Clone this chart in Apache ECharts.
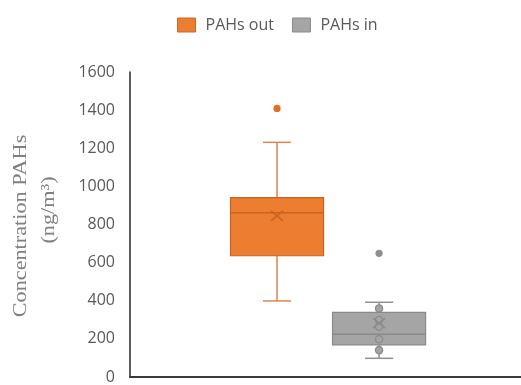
<!DOCTYPE html>
<html>
<head>
<meta charset="utf-8">
<script src="https://cdn.jsdelivr.net/npm/echarts@6/dist/echarts.min.js"></script>
<style>
  html, body { margin: 0; padding: 0; background: #ffffff; }
  #chart { width: 521px; height: 385px; }
</style>
</head>
<body>
<div id="chart"></div>
<script>
// ---- data ----
const categories = [''];
const seriesNames = ['PAHs out', 'PAHs in'];
// [lower whisker, Q1, median, Q3, upper whisker]
const outStats = [399, 636, 862, 941, 1231];
const inStats = [98, 168, 224, 339, 392];
const outMean = 845;
const inMean = 283;
const outOutliers = [1409];
const inOutliers = [649];
const outInnerPoints = [];
const inInnerPoints = [360, 299, 264, 198, 141];
const yTickLabels = ['0', '200', '400', '600', '800', '1000', '1200', '1400', '1600'];

// ---- styling ----
const TEXT = '#595959';
const FONT = '"Open Sans", "Liberation Sans", sans-serif';
const BOX_RATIO = 0.238;     // box width as share of the category band
const CAP_RATIO = 0.072;     // whisker cap width as share of the band

function boxSeries(name, stats, mean, outliers, inner, fill, stroke, dark, dot, shift) {
  return {
    type: 'custom',
    name: name,
    itemStyle: { color: fill, borderColor: stroke },
    data: [[0].concat(stats, [mean])],
    renderItem: function (params, api) {
      const base = api.coord([api.value(0), 0]);
      const band = api.size([1, 0])[0];
      const cx = base[0] + shift * band;
      const y = function (v) { return api.coord([api.value(0), v])[1]; };
      const hb = band * BOX_RATIO / 2;
      const hc = band * CAP_RATIO / 2;
      const lo = y(api.value(1)), q1 = y(api.value(2)), md = y(api.value(3)),
            q3 = y(api.value(4)), hi = y(api.value(5)), mn = y(api.value(6));
      const line = function (x1, y1, x2, y2, color, w) {
        return { type: 'line', shape: { x1: x1, y1: y1, x2: x2, y2: y2 },
                 style: { stroke: color, lineWidth: w || 1.5 } };
      };
      const kids = [
        line(cx, hi, cx, q3, stroke),
        line(cx, q1, cx, lo, stroke),
        line(cx - hc, hi, cx + hc, hi, stroke),
        line(cx - hc, lo, cx + hc, lo, stroke),
        { type: 'rect', shape: { x: cx - hb, y: q3, width: hb * 2, height: q1 - q3 },
          style: { fill: fill, stroke: dark, lineWidth: 1.2 } },
        line(cx - hb, md, cx + hb, md, dark, 1.5)
      ];
      inner.forEach(function (v) {
        kids.push({ type: 'circle', shape: { cx: cx, cy: y(v), r: 3.6 },
                    style: { fill: fill, stroke: dark, lineWidth: 1.3 } });
      });
      // mean marker
      kids.push(line(cx - 6, mn - 5, cx + 6, mn + 5, dark, 1.5));
      kids.push(line(cx - 6, mn + 5, cx + 6, mn - 5, dark, 1.5));
      outliers.forEach(function (v) {
        kids.push({ type: 'circle', shape: { cx: cx, cy: y(v), r: 3.6 },
                    style: { fill: dot } });
      });
      return { type: 'group', children: kids };
    }
  };
}

const chart = echarts.init(document.getElementById('chart'), null, { renderer: 'canvas' });
chart.setOption({
  backgroundColor: '#ffffff',
  animation: false,
  legend: {
    left: 172, top: 12,
    itemWidth: 18, itemHeight: 14, itemGap: 18,
    textStyle: { color: TEXT, fontFamily: FONT, fontSize: 16, padding: [0, 0, 0, 5] },
    data: [
      { name: seriesNames[0], icon: 'rect', itemStyle: { color: '#ED7D31', borderColor: '#C8682A', borderWidth: 1 } },
      { name: seriesNames[1], icon: 'rect', itemStyle: { color: '#A5A5A5', borderColor: '#8A8A8A', borderWidth: 1 } }
    ]
  },
  grid: { left: 130, right: 0, top: 72, bottom: 8 },
  xAxis: {
    type: 'category',
    data: categories,
    axisLine: { lineStyle: { color: '#3a3a3a', width: 2 } },
    axisTick: { show: false },
    axisLabel: { show: false }
  },
  yAxis: {
    type: 'value',
    min: 0, max: 1600, interval: 200,
    axisLine: { show: true, lineStyle: { color: '#262626', width: 1.5 } },
    axisTick: { show: false },
    splitLine: { show: false },
    axisLabel: {
      color: TEXT, fontFamily: FONT, fontSize: 16, margin: 15,
      formatter: function (v) { return yTickLabels[Math.round(v / 200)]; }
    }
  },
  graphic: [
    { type: 'text', x: 21, y: 226, rotation: Math.PI / 2, scaleX: 1.17,
      style: { text: 'Concentration PAHs', font: '19px "Liberation Serif", serif', fill: '#808080',
               align: 'center', verticalAlign: 'middle' } },
    { type: 'text', x: 49, y: 210, rotation: Math.PI / 2, scaleX: 1.17,
      style: { text: '(ng/m\u00B3)', font: '19px "Liberation Serif", serif', fill: '#808080',
               align: 'center', verticalAlign: 'middle' } }
  ],
  series: [
    boxSeries(seriesNames[0], outStats, outMean, outOutliers, outInnerPoints,
              '#ED7D31', '#DF8550', '#C8641F', '#E36F24', -0.124),
    boxSeries(seriesNames[1], inStats, inMean, inOutliers, inInnerPoints,
              '#A5A5A5', '#8F8F8F', '#8A8A8A', '#8F8F8F', 0.137)
  ]
});
</script>
</body>
</html>
